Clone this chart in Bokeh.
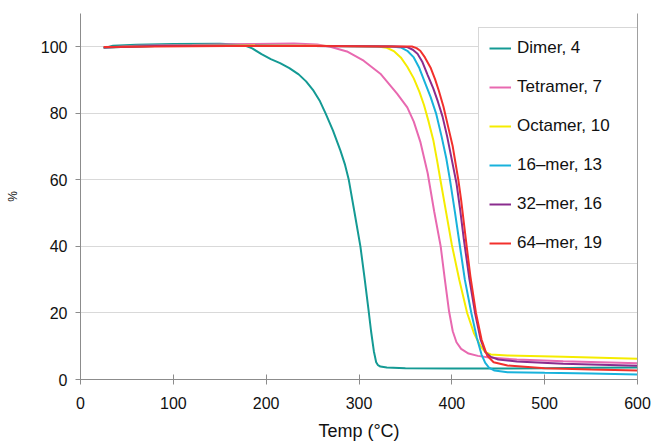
from bokeh.plotting import figure
from bokeh.models import Legend, LegendItem, FixedTicker, LinearAxis, Range1d
from bokeh.embed import file_html
from bokeh.resources import INLINE

# ---- data ----
dimer_t = [25, 35, 60, 100, 150, 175, 185, 195, 205, 215, 225, 235, 243, 251, 258, 264, 272, 280, 285, 289,
           295, 301.5, 306, 310, 313, 316, 318.5, 320.5, 323, 330, 350, 400, 450, 500, 550, 600]
dimer_w = [99.6, 100.3, 100.6, 100.8, 100.9, 100.6, 99.5, 97.8, 96.3, 95.1, 93.6, 91.7, 89.6, 86.8, 83.6, 80,
           74.8, 68.8, 64.5, 60, 50.5, 40, 30.5, 21.5, 14.5, 8.5, 5.2, 4.3, 3.9, 3.6, 3.4, 3.3, 3.3, 3.4, 3.5, 3.6]

tetramer_t = [25, 60, 120, 180, 230, 255, 269, 287, 305, 323, 341, 352, 359, 366, 374, 381, 388, 392.5, 397,
              401, 405, 410, 418, 428, 440, 470, 520, 600]
tetramer_w = [99.7, 100.3, 100.5, 100.8, 101.0, 100.7, 100.0, 98.6, 95.8, 91.9, 85.9, 81.8, 77.5, 71.5, 62,
              50.5, 40, 30, 20.5, 14.5, 11.2, 9.2, 7.8, 7.1, 6.6, 6.0, 5.5, 4.9]

octamer_t = [25, 80, 160, 250, 320, 330, 338, 345, 352, 359, 365, 370, 375, 380, 384, 388, 394, 400, 408,
             416.5, 424, 431, 436, 442, 460, 520, 600]
octamer_w = [99.8, 100.2, 100.4, 100.3, 100.1, 99.7, 98.6, 96.8, 94, 90.5, 86.5, 82.5, 77.5, 72, 66, 59.5,
             50, 40.5, 30, 20, 13.8, 10, 8.2, 7.5, 7.2, 6.8, 6.2]

mer16_t = [25, 80, 160, 250, 335, 345, 352, 359, 365, 370, 377, 383, 389, 394, 398, 403.5, 408.5, 414, 421,
           427, 432, 436, 440, 446, 460, 500, 550, 600]
mer16_w = [99.8, 100.2, 100.3, 100.2, 100.1, 99.8, 98.8, 96.8, 93.6, 90, 85, 80, 73, 66.5, 60, 50, 40.5, 30,
           20, 12.5, 7.5, 5.0, 3.6, 2.7, 2.2, 2.0, 1.8, 1.5]

mer32_t = [25, 80, 160, 250, 340, 352, 358, 363, 368, 374, 380, 385, 390, 395, 400, 405, 409, 413, 419, 425,
           431, 436, 442, 450, 470, 520, 600]
mer32_w = [99.8, 100.2, 100.3, 100.2, 100.1, 99.9, 99.1, 97.9, 95.6, 91.5, 87.5, 83.5, 79, 73, 66, 59, 51,
           42, 30, 20, 12, 8.3, 6.8, 6.0, 5.4, 4.7, 4.1]

mer64_t = [25, 80, 160, 250, 340, 357, 362, 366, 371, 377, 382, 386, 391, 396, 401, 404, 407, 410, 413, 416,
           420, 426, 432, 438, 445, 460, 500, 550, 600]
mer64_w = [99.9, 100.1, 100.2, 100.2, 100.1, 100.1, 99.6, 98.8, 96.8, 93.8, 90.2, 86.8, 82, 76, 70, 65, 60,
           54, 47, 40, 31, 20, 12, 7.2, 5.2, 4.2, 3.4, 3.0, 2.7]

series_names = ["Dimer, 4", "Tetramer, 7", "Octamer, 10", "16\u2013mer, 13", "32\u2013mer, 16", "64\u2013mer, 19"]
x_ticks = [0, 100, 200, 300, 400, 500, 600]
y_ticks = [0, 20, 40, 60, 80, 100]

series = [(dimer_t, dimer_w), (tetramer_t, tetramer_w), (octamer_t, octamer_w),
          (mer16_t, mer16_w), (mer32_t, mer32_w), (mer64_t, mer64_w)]
colors = ["#149a94", "#e869b0", "#f5ec00", "#18b2dc", "#8a2c8e", "#f2302c"]

FONT = "Liberation Sans"

p = figure(width=654, height=443, output_backend="svg", toolbar_location=None,
           x_range=Range1d(0, 600), y_range=Range1d(0, 110),
           min_border_left=80, min_border_right=17, min_border_top=13, min_border_bottom=64)
p.outline_line_color = None
p.background_fill_color = "white"
p.border_fill_color = "white"

items = []
for (t, w), c, name in zip(series, colors, series_names):
    r = p.line(t, w, line_color=c, line_width=2)
    items.append(LegendItem(label=name, renderers=[r]))

# axes
p.xaxis.ticker = FixedTicker(ticks=x_ticks)
p.yaxis.ticker = FixedTicker(ticks=y_ticks)
p.xaxis.minor_tick_line_color = None
p.yaxis.minor_tick_line_color = None
for ax in (p.xaxis[0], p.yaxis[0]):
    ax.axis_line_color = "#8c8c8c"
    ax.major_tick_line_color = "#8c8c8c"
    ax.major_label_text_font = FONT
    ax.major_label_text_font_size = "16px"
    ax.major_label_text_color = "#111111"
    ax.axis_label_text_font = FONT
    ax.axis_label_text_font_style = "normal"
    ax.axis_label_text_color = "#111111"
p.xaxis.major_tick_in = 5
p.xaxis.major_tick_out = 5
p.yaxis.major_tick_in = 0
p.yaxis.major_tick_out = 5
p.xaxis.major_label_standoff = 12
p.yaxis.major_label_standoff = 8
p.xaxis.axis_label = "Temp (\u00b0C)"
p.xaxis.axis_label_text_font_size = "18px"
p.xaxis.axis_label_standoff = 9
p.yaxis.axis_label = "%"
p.yaxis.axis_label_text_font_size = "12px"
p.yaxis.axis_label_standoff = 18

# right border line
rax = LinearAxis(ticker=FixedTicker(ticks=[]), axis_line_color="#a0a0a0",
                 major_tick_line_color=None, minor_tick_line_color=None,
                 major_label_text_font_size="0px")
p.add_layout(rax, "right")

p.xgrid.grid_line_color = None
p.ygrid.grid_line_color = "#d9d9d9"
p.ygrid.grid_line_width = 1

legend = Legend(items=items, location=(398, 115), orientation="vertical",
                label_text_font=FONT, label_text_font_size="17px", label_text_color="#111111",
                glyph_width=22, glyph_height=20, label_height=20, label_standoff=6,
                spacing=19, padding=10, margin=0, label_width=116,
                border_line_color="#b0b0b0", border_line_width=1,
                background_fill_color="white", background_fill_alpha=1.0)
p.add_layout(legend, "center")

open("out.html", "w").write(file_html(p, INLINE))
